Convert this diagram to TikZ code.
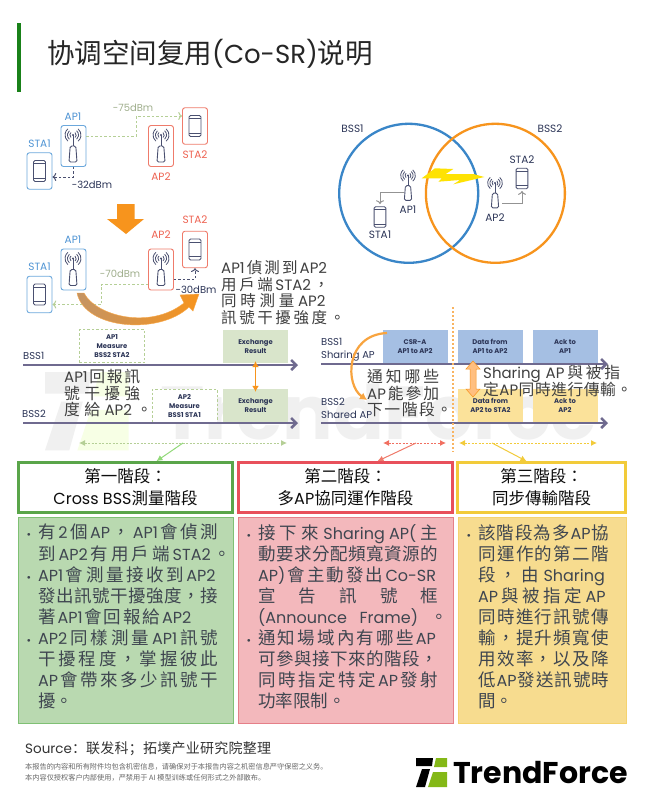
\documentclass[tikz,border=0pt]{standalone}
\usepackage{fontspec}
\usepackage{tikz}
\usetikzlibrary{arrows.meta}
\setmainfont{Noto Sans CJK TC}
\newfontfamily\cjksc{Noto Sans CJK SC}
\newfontfamily\latinfont{Poppins}
% stretchable space between CJK characters, for the justified lines
\newXeTeXintercharclass\cjkclass
\newcount\cjkchar
\cjkchar="3000
\loop\ifnum\cjkchar<"3040 \XeTeXcharclass\cjkchar=\cjkclass \advance\cjkchar by 1 \repeat
\cjkchar="4E00
\loop\ifnum\cjkchar<"A000 \XeTeXcharclass\cjkchar=\cjkclass \advance\cjkchar by 1 \repeat
\cjkchar="FF00
\loop\ifnum\cjkchar<"FF60 \XeTeXcharclass\cjkchar=\cjkclass \advance\cjkchar by 1 \repeat
\XeTeXinterchartoks\cjkclass\cjkclass={\hskip 0pt plus 6pt\relax}
\XeTeXinterchartokenstate=1
\definecolor{iconcol}{HTML}{4A5070}
\definecolor{blueline}{HTML}{6CA8DC}
\definecolor{redline}{HTML}{EF7B6B}
\definecolor{bluelabel}{HTML}{4F94D4}
\definecolor{redlabel}{HTML}{EE6352}
\definecolor{orangecol}{HTML}{F7941D}
\definecolor{arrowbrown}{HTML}{C49464}
\definecolor{greenline}{HTML}{B5CF96}
\definecolor{greencol}{HTML}{5AA54A}
\definecolor{redcol}{HTML}{E8505B}
\definecolor{yellowcol}{HTML}{F2CB3A}
\definecolor{timecol}{HTML}{6F6A8F}
\definecolor{navy}{HTML}{2C3557}
\definecolor{bodycol}{HTML}{3F4650}
\definecolor{circleblue}{HTML}{3A86C8}
\definecolor{exchfill}{HTML}{D9E5CB}
\definecolor{slotblue}{HTML}{A5BFE3}
\definecolor{slotyellow}{HTML}{FBE29A}
\definecolor{greenfill}{HTML}{B9D9B0}
\definecolor{greenedge}{HTML}{7FC074}
\definecolor{redfill}{HTML}{F3B8BC}
\definecolor{rededge}{HTML}{E57F88}
\definecolor{yellowfill}{HTML}{F7DC8F}
\definecolor{yellowedge}{HTML}{F5D36E}
\definecolor{logogreen}{HTML}{84B817}
\newcommand\fs[2]{\fontsize{#1}{#2}\selectfont\lineskiplimit=-30pt\relax}
% latin run inside a line, at the start of a line, in a smaller note
\newcommand\lat[1]{\hspace{0pt plus 6pt}{\latinfont\fontsize{16}{21}\selectfont #1}\hspace{0pt plus 6pt}}
\newcommand\las[1]{{\latinfont\fontsize{16}{21}\selectfont #1}\hspace{0pt plus 6pt}}
\newcommand\nat[1]{\hspace{0pt plus 6pt}{\latinfont\fontsize{15}{16}\selectfont #1}\hspace{0pt plus 6pt}}
\newcommand\nas[1]{{\latinfont\fontsize{15}{16}\selectfont #1}\hspace{0pt plus 6pt}}
\newcommand\wline[2]{\makebox[#1][s]{#2}}
\newcommand\bl{\llap{{\latinfont\fontsize{11}{11}\selectfont •}\hskip 7pt}}
\tikzset{
  router/.pic={
    \foreach \r in {3.2,5.6,8}
      {\draw[iconcol,line width=.8pt] ([shift={(-50:\r)}]0,0) arc (-50:50:\r);
       \draw[iconcol,line width=.8pt] ([shift={(130:\r)}]0,0) arc (130:230:\r);}
    \fill[iconcol] (0,0) circle (1.2);
    \draw[iconcol,line width=.9pt] (0,0) -- (0,11);
    \draw[iconcol,line width=.9pt,rounded corners=1.5pt] (-2.8,11) -- (2.8,11) -- (4,27) -- (-4,27) -- cycle;
  },
  phone/.pic={
    \draw[iconcol,line width=.9pt,rounded corners=1.5pt] (-6,-10.5) rectangle (6,10.5);
    \draw[iconcol,line width=.7pt] (-6,-7.5) -- (6,-7.5) (-6,7) -- (6,7);
  },
  logomark/.pic={
    \fill[logoA] (0,0) -- (17,0) -- (16,8) -- (0,8) -- cycle;
    \fill[logoA] (6,11) -- (14,11) -- (9,29) -- (0,29) -- cycle;
    \fill[logoB] (20,0) -- (31,0) -- (31,9) -- (18,9) -- cycle;
    \fill[logoB] (17,14) -- (31,14) -- (31,29) -- (12,29) -- cycle;
  },
  logoA/.style={black}, logoB/.style={fill=logogreen},
  apbox/.style={draw=#1,rounded corners=2.5pt,line width=.9pt,minimum width=25pt,minimum height=41pt,inner sep=0pt},
  stabox/.style={draw=#1,rounded corners=2.5pt,line width=.9pt,minimum width=25pt,minimum height=36.5pt,inner sep=0pt},
  iconlabel/.style={font=\latinfont\fs{10.5}{11},text=#1,inner sep=0pt},
  dbmlabel/.style={font=\latinfont\fs{10}{11},text=#1,inner sep=0pt},
  dashgreen/.style={draw=greenline,line width=1pt,dash pattern=on 2.5pt off 2pt},
  dashnavy/.style={draw=iconcol,line width=1pt,dash pattern=on 2.5pt off 2pt},
  gridline/.style={draw=gray!85,line width=1pt},
  timeline/.style={draw=timecol,line width=2.5pt,-{Straight Barb[length=5pt,width=10pt]}},
  slotbox/.style={fill=#1,minimum width=65pt,minimum height=33pt,inner sep=0pt,align=center,font=\latinfont\bfseries\fs{6.8}{9},text=navy},
  dashbox/.style={dashgreen,fill=white,minimum width=65pt,minimum height=33pt,inner sep=0pt,align=center,font=\latinfont\bfseries\fs{6.8}{9},text=navy},
  bsslabel/.style={font=\latinfont\fs{10}{13},text=navy,inner sep=0pt,anchor=west,align=left},
  overtext/.style={font=\fs{#1}{16.6},text=black!75,inner sep=0pt,anchor=north west,align=left},
  hdrbox/.style={draw=#1,fill=white,line width=2.7pt,align=center,inner sep=0pt,font=\fs{16.5}{22},text=black!95},
  bodybox/.style={draw=#1,inner sep=0pt,line width=1pt},
  bodytext/.style={font=\fs{17.5}{21.1},text=bodycol,inner sep=0pt,anchor=north west,align=left},
  spanarrow/.style={draw=#1,line width=1pt,dash pattern=on 2pt off 1.5pt,{Latex[length=6pt,width=6pt]}-{Latex[length=6pt,width=6pt]}},
  spanlead/.style={draw=#1,line width=1pt,-{Latex[length=6pt,width=6pt]}},
}
\begin{document}
\begin{tikzpicture}[x=1pt,y=-1pt]
  \useasboundingbox (0,0) rectangle (650,807);
  \fill[white] (0,0) rectangle (650,807);
  % watermark
  \begin{scope}[logoA/.style={fill=black!6},logoB/.style={fill=green!30!yellow!10}]
    \pic[scale=2.7] at (45,372) {logomark};
  \end{scope}
  \node[font=\latinfont\bfseries\fontsize{75}{75}\selectfont,text=black!6,inner sep=0pt,anchor=west] (markname) at (160,412) {TrendForce};
  % title
  \fill[green!45!black!90!white] (17,23) rectangle (21,92);
  \node[font=\cjksc\fontsize{27.5}{30}\selectfont,text=black!85,inner sep=0pt,anchor=west] (title) at (47,54)
    {协调空间复用{\latinfont\fontsize{26}{30}\selectfont (Co-SR)}说明};

  % before
  \node[apbox=blueline] (ap1a) at (73.5,146) {};
  \node[stabox=blueline] (sta1a) at (39.5,171) {};
  \node[apbox=redline] (ap2a) at (161,146) {};
  \node[stabox=redline] (sta2a) at (195,126) {};
  \pic at (73,135) {router};
  \pic at (161,135) {router};
  \pic at (39.5,171) {phone};
  \pic at (195,126) {phone};
  \node[iconlabel=bluelabel] (ap1alabel) at (73,117) {AP1};
  \node[iconlabel=bluelabel] (sta1alabel) at (39.5,144) {STA1};
  \node[iconlabel=redlabel] (ap2alabel) at (161,177) {AP2};
  \node[iconlabel=redlabel] (sta2alabel) at (195,155) {STA2};
  \node[dbmlabel=greenline!60!gray] (dbm75) at (133,108) {-75dBm};
  \node[dbmlabel=navy] (dbm32) at (92,185) {-32dBm};
  \draw[dashgreen,->] ([yshift=10pt]ap1a.east) -- ++(50,0) |- ([yshift=10pt]sta2a.west);
  \draw[dashnavy,->] (ap1a.south) |- ([yshift=-6pt]sta1a.east);

  % big arrow
  \fill[orangecol] (117,204) -- (134.7,204) -- (134.7,219) -- (144,219) -- (126,234) -- (107,219) -- (117,219) -- cycle;

  % after
  \node[apbox=blueline] (ap1b) at (73.5,269.5) {};
  \node[stabox=blueline] (sta1b) at (39.5,294.5) {};
  \node[apbox=redline] (ap2b) at (161,269.5) {};
  \node[stabox=redline] (sta2b) at (195,249.5) {};
  \pic at (73,258.5) {router};
  \pic at (161,258.5) {router};
  \pic at (39.5,294.5) {phone};
  \pic at (195,249.5) {phone};
  \node[iconlabel=bluelabel] (ap1blabel) at (73,240) {AP1};
  \node[iconlabel=bluelabel] (sta1blabel) at (39.5,267) {STA1};
  \node[iconlabel=redlabel] (ap2blabel) at (161,235) {AP2};
  \node[iconlabel=redlabel] (sta2blabel) at (195,220) {STA2};
  \node[dbmlabel=greenline!60!gray] (dbm70) at (120,274) {-70dBm};
  \node[dbmlabel=navy] (dbm30) at (196,290) {-30dBm};
  \draw[dashgreen,->] ([yshift=-15pt]ap2b.west) -- ++(-47,0) |- ([yshift=-10pt]sta1b.east);
  \draw[dashnavy,->] ([yshift=-10pt]ap2b.east) -| (sta2b.south);
  \shade[left color=arrowbrown,right color=orangecol,draw=orangecol!80,line width=.4pt]
    (77,293) -- (84,293) .. controls (96,316) and (150,330) .. (184,303) -- (180,295)
    -- (199,294) -- (193,311) -- (189,307) .. controls (160,335) and (85,330) .. (77,293) -- cycle;
  \node[overtext=15.5] (note1) at (221,260.5)
    {\wline{108pt}{\nas{AP1}偵測到\nat{AP2}}\\
     \wline{108pt}{用戶端\nat{STA2}，}\\
     \wline{108pt}{同時測量\nat{AP2}}\\
     \wline{124pt}{訊號干擾強度。}};

  % circles
  \node[draw=circleblue,line width=2.3pt,circle,minimum size=139pt,inner sep=0pt] (bss1) at (408.7,193.3) {};
  \node[draw=orangecol,line width=2.3pt,circle,minimum size=139pt,inner sep=0pt] (bss2) at (495.4,193.3) {};
  \node[iconlabel=navy] (bss1label) at (352.5,129) {BSS1};
  \node[iconlabel=navy] (bss2label) at (550,129) {BSS2};
  \fill[yellow!85!orange] (421.7,178.3) -- (435,168.3) -- (453.3,169) -- (445.7,174) -- (473.3,174) -- (484.3,177)
    -- (453.3,184.3) -- (460,180) -- (438.3,181.7) -- (441.7,178.3) -- cycle;
  \pic[scale=.92] at (408,175.5) {router};
  \pic[scale=.92] at (495,183) {router};
  \pic[scale=.98] at (380,217) {phone};
  \pic[scale=.98] at (522,178.5) {phone};
  \node[iconlabel=navy] (ap1c) at (408,210) {AP1};
  \node[iconlabel=navy] (sta1c) at (380,235) {STA1};
  \node[iconlabel=navy] (ap2c) at (495,218) {AP2};
  \node[iconlabel=navy] (sta2c) at (522,160) {STA2};
  \coordinate (ap1out) at (404,192);
  \coordinate (sta1in) at (380,204);
  \coordinate (ap2out) at (502,203);
  \coordinate (sta2in) at (522,191);
  \draw[gridline,->] (ap1out) -| (sta1in);
  \draw[gridline,->] (ap2out) -| (sta2in);

  % timelines, left
  \node[dashbox] (meas1) at (112,346) {AP1\\Measure\\BSS2 STA2};
  \node[dashbox] (meas2) at (184.5,405.5) {AP2\\Measure\\BSS1 STA1};
  \node[slotbox=exchfill] (exch1) at (255.5,346.5) {Exchange\\Result};
  \node[slotbox=exchfill] (exch2) at (255.5,405.5) {Exchange\\Result};
  \coordinate (bss1start) at (23,365);
  \coordinate (bss1end) at (298,365);
  \coordinate (bss2start) at (23,423);
  \coordinate (bss2end) at (298,423);
  \draw[timeline] (bss1start) -- (bss1end);
  \draw[timeline] (bss2start) -- (bss2end);
  \node[bsslabel] (bss1name) at (23,356) {BSS1};
  \node[bsslabel] (bss2name) at (22,414) {BSS2};
  \draw[draw=orangecol,line width=1.2pt,{Latex[length=6pt,width=7pt]}-{Latex[length=6pt,width=7pt]},shorten <=-2pt,shorten >=-3pt] (exch1.south) -- (exch2.north);
  \node[overtext=15.8] (note2) at (64,369)
    {\wline{76pt}{\nas{AP1}回報訊}\\
     \wline{76pt}{號干擾強}\\
     \wline{88pt}{度給\nat{AP2}。}};
  \coordinate (spanAleft) at (79,443);
  \coordinate (spanAright) at (287,443);
  \coordinate (spanAmid) at (183,443);
  \draw[spanarrow=greenline] (spanAleft) -- (spanAright);

  % timelines, right
  \node[slotbox=slotblue] (csr) at (415,346.5) {CSR-A\\AP1 to AP2};
  \node[slotbox=slotblue] (data1) at (490,346.5) {Data from\\AP1 to AP2};
  \node[slotbox=slotblue] (ack1) at (565,346.5) {Ack to\\AP1};
  \node[slotbox=slotyellow] (data2) at (490.5,405.5) {Data from\\AP2 to STA2};
  \node[slotbox=slotyellow] (ack2) at (565,405.5) {Ack to\\AP2};
  \coordinate (sharestart) at (321,364);
  \coordinate (shareend) at (608,364);
  \coordinate (sharedstart) at (321,423);
  \coordinate (sharedend) at (608,423);
  \draw[timeline] (sharestart) -- (shareend);
  \draw[timeline] (sharedstart) -- (sharedend);
  \node[bsslabel] (sharename) at (321,349.5) {BSS1\\Sharing AP};
  \node[bsslabel] (sharedname) at (321,408) {BSS2\\Shared AP};
  \coordinate (sepA) at (453,307);
  \coordinate (sepB) at (453,452);
  \draw[draw=orangecol!70,line width=1.4pt,dash pattern=on 2pt off 2pt] (sepA) -- (sepB);
  \filldraw[fill=orange!50!white,draw=orangecol,line width=.5pt] (473,361) -- (480,369) -- (476,369) -- (476,389) -- (480,389) -- (473,397) -- (466,389) -- (470,389) -- (470,369) -- (466,369) -- cycle;
  \coordinate (notifyA) at (387,333);
  \coordinate (notifyB) at (367,400);
  \draw[draw=orangecol!85,line width=2.2pt,-{Latex[length=7pt,width=8pt]}] (notifyA) .. controls (345,335) and (345,385) .. (notifyB);
  \node[overtext=15.8] (note3) at (367,369)
    {\wline{72pt}{通知哪些}\\
     \wline{72pt}{\nas{AP}能參加}\\
     \wline{85pt}{下一階段。}};
  \node[overtext=15.8] (note4) at (483,365)
    {\wline{137pt}{\nas{Sharing AP}與被指}\\
     \wline{149pt}{定\nat{AP}同時進行傳輸。}};
  \coordinate (spanBleft) at (383,443);
  \coordinate (spanBright) at (446,443);
  \coordinate (spanBmid) at (416,443);
  \coordinate (spanCleft) at (459,443);
  \coordinate (spanCright) at (597,443);
  \coordinate (spanCmid) at (492,443);
  \draw[spanarrow=redline!90!red] (spanBleft) -- (spanBright);
  \draw[spanarrow=yellowcol] (spanCleft) -- (spanCright);

  % phase headers
  \node[hdrbox=greencol,minimum width=214pt,minimum height=50pt] (hdr1) at (125.5,487.5) {第一階段：\\{\latinfont\fontsize{16}{22}\selectfont Cross BSS}測量階段};
  \node[hdrbox=redcol,minimum width=214pt,minimum height=50pt] (hdr2) at (345.5,487.5) {第二階段：\\多{\latinfont\fontsize{16}{22}\selectfont AP}協同運作階段};
  \node[hdrbox=yellowcol,minimum width=168pt,minimum height=50pt] (hdr3) at (541.5,487.5) {第三階段：\\同步傳輸階段};
  \draw[spanlead=greenline!80!green] (spanAmid) -- ([xshift=31pt]hdr1.north);
  \draw[spanlead=redline] (spanBmid) -- ([xshift=32pt]hdr2.north);
  \draw[spanlead=yellowcol] (spanCmid) -- ([xshift=-15pt]hdr3.north);

  % phase bodies
  \node[bodybox=greenedge,fill=greenfill,minimum width=215pt,minimum height=206pt] (body1) at (125.5,620) {};
  \node[bodybox=rededge,fill=redfill,minimum width=215pt,minimum height=206pt] (body2) at (345.5,620) {};
  \node[bodybox=yellowedge,fill=yellowfill,minimum width=168pt,minimum height=206pt] (body3) at (542,620) {};
  \node[bodytext] (text1) at (38,524) {%
    \wline{180pt}{\bl 有\lat{2}個\lat{AP}，\lat{AP1}會偵測}\\
    \wline{193pt}{到\lat{AP2}有用戶端\lat{STA2}。}\\
    \wline{180pt}{\bl\las{AP1}會測量接收到\lat{AP2}}\\
    \wline{180pt}{發出訊號干擾強度，接}\\
    \wline{155pt}{著\lat{AP1}會回報給\lat{AP2}}\\
    \wline{180pt}{\bl\las{AP2}同樣測量\lat{AP1}訊號}\\
    \wline{180pt}{干擾程度，掌握彼此}\\
    \wline{180pt}{\las{AP}會帶來多少訊號干}\\
    擾。};
  \node[bodytext] (text2) at (258,524) {%
    \wline{180pt}{\bl 接下來\lat{Sharing\hspace{0pt plus 6pt}AP(}主}\\
    \wline{180pt}{動要求分配頻寬資源的}\\
    \wline{180pt}{\las{AP)}會主動發出\lat{Co-SR}}\\
    \wline{180pt}{宣告訊號框}\\
    \wline{190pt}{\las{(Announce\hspace{0pt plus 6pt}Frame)}。}\\
    \wline{180pt}{\bl 通知場域內有哪些\lat{AP}}\\
    \wline{180pt}{可參與接下來的階段，}\\
    \wline{180pt}{同時指定特定\lat{AP}發射}\\
    功率限制。};
  \node[bodytext] (text3) at (478,524) {%
    \wline{131pt}{\bl 該階段為多\lat{AP}協}\\
    \wline{131pt}{同運作的第二階}\\
    \wline{131pt}{段，由\lat{Sharing}}\\
    \wline{131pt}{\las{AP}與被指定\lat{AP}}\\
    \wline{131pt}{同時進行訊號傳}\\
    \wline{131pt}{輸，提升頻寬使}\\
    \wline{131pt}{用效率，以及降}\\
    \wline{131pt}{低\lat{AP}發送訊號時}\\
    間。};

  % footer
  \node[font=\cjksc\fs{14}{16},text=black!80,inner sep=0pt,anchor=west] (source) at (25,749)
    {\wline{246pt}{{\latinfont\fontsize{13.5}{16}\selectfont Source}：联发科；拓墣产业研究院整理}};
  \node[font=\cjksc\fs{7.2}{11},text=black!60,inner sep=0pt,anchor=north west,align=left] (notice) at (25,763)
    {本报告的内容和所有附件均包含机密信息，请确保对于本报告内容之机密信息严守保密之义务。\\
     本内容仅授权客户内部使用，严禁用于 AI 模型训练或任何形式之外部散布。};
  \begin{scope}[logoA/.style={fill=black},logoB/.style={fill=logogreen}]
    \pic at (416,758) {logomark};
  \end{scope}
  \node[font=\latinfont\bfseries\fontsize{30}{30}\selectfont,text=black,inner sep=0pt,anchor=west] (logoname) at (453,773) {TrendForce};
\end{tikzpicture}
\end{document}
